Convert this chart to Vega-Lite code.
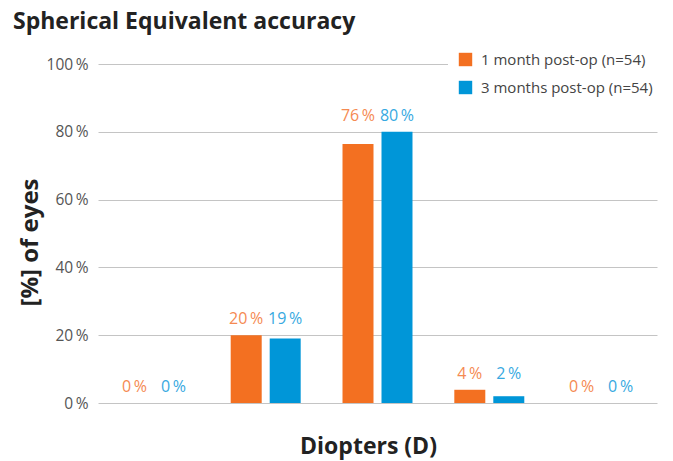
{
  "$schema": "https://vega.github.io/schema/vega-lite/v6.json",
  "autosize": {"type": "none"},
  "padding": {"left": 98, "top": 64, "right": 16, "bottom": 58},
  "width": 559,
  "height": 339,
  "background": "white",
  "title": {
    "text": "Spherical Equivalent accuracy",
    "anchor": "start",
    "frame": "group",
    "dx": -85,
    "dy": -4,
    "font": "Open Sans",
    "fontSize": 23,
    "fontWeight": "bold",
    "color": "#222222"
  },
  "data": {
    "values": [
      {"range": "< -1.00 D", "series": "1 month post-op (n=54)", "value": 0},
      {"range": "< -1.00 D", "series": "3 months post-op (n=54)", "value": 0},
      {"range": "-1.00 to -0.51 D", "series": "1 month post-op (n=54)", "value": 20},
      {"range": "-1.00 to -0.51 D", "series": "3 months post-op (n=54)", "value": 19},
      {"range": "-0.50 to +0.50 D", "series": "1 month post-op (n=54)", "value": 76.4},
      {"range": "-0.50 to +0.50 D", "series": "3 months post-op (n=54)", "value": 80},
      {"range": "+0.51 to +1.00 D", "series": "1 month post-op (n=54)", "value": 3.9},
      {"range": "+0.51 to +1.00 D", "series": "3 months post-op (n=54)", "value": 2},
      {"range": "> +1.00 D", "series": "1 month post-op (n=54)", "value": 0},
      {"range": "> +1.00 D", "series": "3 months post-op (n=54)", "value": 0}
    ]
  },
  "transform": [
    {"joinaggregate": [{"op": "max", "field": "value", "as": "groupMax"}], "groupby": ["range"]}
  ],
  "encoding": {
    "x": {
      "field": "range",
      "type": "nominal",
      "sort": null,
      "scale": {"paddingInner": 0.374, "paddingOuter": 0.187},
      "axis": {
        "title": "Diopters (D)",
        "labels": false,
        "ticks": false,
        "domain": false,
        "titleFont": "Open Sans",
        "titleFontSize": 23,
        "titleFontWeight": "bold",
        "titleColor": "#222222",
        "titleX": 270,
        "titleY": 50,
        "titleBaseline": "alphabetic"
      }
    },
    "xOffset": {
      "field": "series",
      "type": "nominal",
      "scale": {"paddingInner": 0.205, "paddingOuter": 0}
    }
  },
  "layer": [
    {
      "mark": {"type": "bar"},
      "encoding": {
        "y": {
          "field": "value",
          "type": "quantitative",
          "scale": {"domain": [0, 100], "nice": false},
          "axis": {
            "title": "[%] of eyes",
            "values": [0, 20, 40, 60, 80, 100],
            "labelExpr": "format(datum.value, '.0f') + '\u2009%'",
            "labelFont": "Open Sans",
            "labelFontSize": 15.5,
            "labelColor": "#555555",
            "labelPadding": 10,
            "ticks": false,
            "domain": false,
            "grid": true,
            "gridColor": "#c4c4c4",
            "gridWidth": 1,
            "titleFont": "Open Sans",
            "titleFontSize": 24,
            "titleFontWeight": "bold",
            "titleColor": "#222222",
            "titleAngle": -90,
            "titleX": -68,
            "titleY": 178,
            "titleBaseline": "middle",
            "titleAlign": "center"
          }
        },
        "color": {
          "field": "series",
          "type": "nominal",
          "scale": {"range": ["#F37021", "#0096D8"]},
          "legend": {
            "title": null,
            "orient": "none",
            "legendX": 350,
            "legendY": -22,
            "padding": 10,
            "fillColor": "white",
            "symbolType": "square",
            "symbolSize": 180,
            "symbolStrokeWidth": 0,
            "labelFont": "Open Sans",
            "labelFontSize": 15,
            "labelColor": "#444444",
            "labelOffset": 8,
            "labelLimit": 0,
            "rowPadding": 12
          }
        }
      }
    },
    {
      "mark": {
        "type": "text",
        "font": "Open Sans",
        "fontSize": 16,
        "baseline": "alphabetic",
        "dy": -11,
        "text": {"expr": "format(datum.value, '.0f') + '\u2009%'"}
      },
      "encoding": {
        "y": {"field": "groupMax", "type": "quantitative"},
        "color": {
          "field": "series",
          "type": "nominal",
          "scale": {"range": ["#F58A52", "#37A9E1"]},
          "legend": null
        }
      }
    }
  ],
  "resolve": {"scale": {"color": "independent"}},
  "config": {"view": {"stroke": null}}
}
